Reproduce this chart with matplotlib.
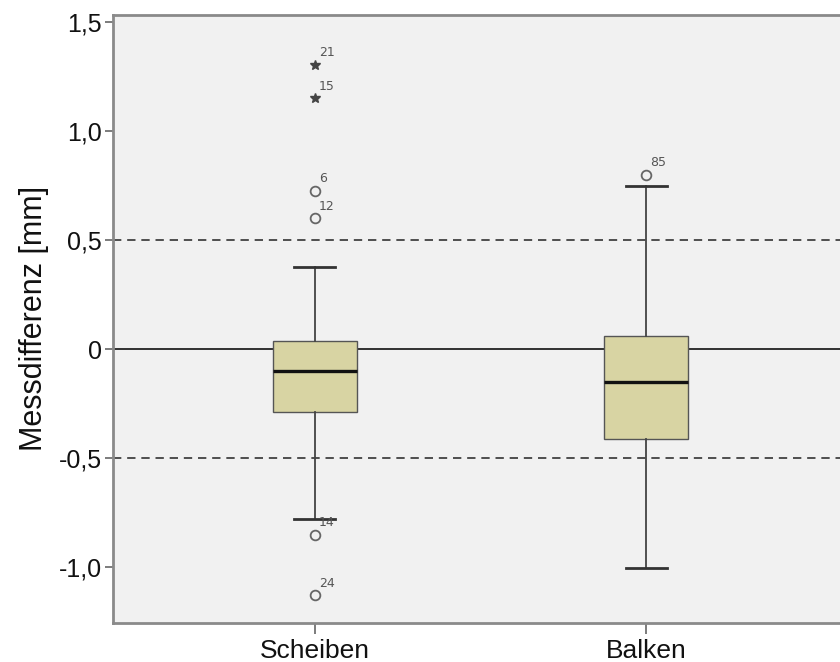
import matplotlib
matplotlib.use("Agg")
import matplotlib.pyplot as plt

plt.rcParams['font.family'] = ['Liberation Sans', 'DejaVu Sans']

# box statistics (mm)
groups = ['Scheiben', 'Balken']
q1 = [-0.29, -0.413]
med = [-0.10, -0.153]
q3 = [0.037, 0.061]
whislo = [-0.78, -1.005]
whishi = [0.378, 0.749]

# outliers: group index, value, case label, extreme (star) or not
out_grp = [0, 0, 0, 0, 0, 0, 1]
out_val = [1.303, 1.15, 0.726, 0.60, -0.853, -1.13, 0.798]
out_lab = ['21', '15', '6', '12', '14', '24', '85']
out_ext = [True, True, False, False, False, False, False]

yticks = [-1.0, -0.5, 0, 0.5, 1.0, 1.5]
ytick_labels = ['-1,0', '-0,5', '0', '0,5', '1,0', '1,5']

fig = plt.figure(figsize=(8.4, 6.62), dpi=100)
ax = fig.add_axes([113 / 840, 39.3 / 662, 735 / 840, 607.7 / 662])
ax.set_facecolor('#f1f1f1')

pos = [1, 2]
stats = []
for i, g in enumerate(groups):
    stats.append(dict(label=g, q1=q1[i], med=med[i], q3=q3[i],
                      whislo=whislo[i], whishi=whishi[i], fliers=[]))

ax.axhline(0, color='#111111', lw=1.2, zorder=1)
for y in (0.5, -0.5):
    ax.axhline(y, color='#333333', lw=1.2, ls=(0, (5, 3.5)), zorder=1)

ax.bxp(stats, positions=pos, widths=0.254, patch_artist=True,
       showfliers=False, capwidths=0.124,
       boxprops=dict(facecolor='#d8d4a3', edgecolor='#555555', lw=1.0),
       medianprops=dict(color='#111111', lw=2.4),
       whiskerprops=dict(color='#444444', lw=1.3),
       capprops=dict(color='#333333', lw=2.0),
       zorder=3)

for g, v, lab, ext in zip(out_grp, out_val, out_lab, out_ext):
    x = pos[g]
    if ext:
        ax.plot(x, v, marker='*', ms=7, color='#444444', mec='#444444', zorder=4)
    else:
        ax.plot(x, v, marker='o', ms=7, mfc='none', mec='#666666', mew=1.3, zorder=4)
    ax.annotate(lab, (x, v), xytext=(3, 4), textcoords='offset points',
                ha='left', va='bottom', fontsize=9, color='#555555',
                family='DejaVu Sans', zorder=5)

ax.set_xlim(0.39, 2.61)
ax.set_ylim(-1.255, 1.532)
ax.set_xticks(pos)
ax.set_xticklabels(groups, fontsize=19, color='#111111')
ax.set_yticks(yticks)
ax.set_yticklabels(ytick_labels, fontsize=18, color='#111111')
ax.set_ylabel('Messdifferenz [mm]', fontsize=22, color='#111111', labelpad=7)

for s in ax.spines.values():
    s.set_color('#8a8a8a')
    s.set_linewidth(2)
ax.tick_params(axis='y', length=6, width=1.2, color='#666666', pad=2)
ax.tick_params(axis='x', length=8, width=1.2, color='#666666', pad=4)

fig.savefig('out.png', dpi=100)
